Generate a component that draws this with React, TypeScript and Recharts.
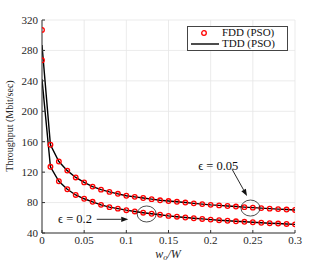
import React from "react";
import {
  ComposedChart,
  Line,
  XAxis,
  YAxis,
  CartesianGrid,
  ReferenceDot,
  ReferenceLine,
} from "recharts";

// x positions w_o/W
const ratio = [
  0, 0.01, 0.02, 0.03, 0.04, 0.05, 0.06, 0.07, 0.08, 0.09, 0.1, 0.11, 0.12, 0.13, 0.14, 0.15,
  0.16, 0.17, 0.18, 0.19, 0.2, 0.21, 0.22, 0.23, 0.24, 0.25, 0.26, 0.27, 0.28, 0.29, 0.3,
];

// epsilon = 0.05 (upper pair)
const fddHigh = [
  307, 156, 134, 122, 113, 106.5, 101, 97, 94, 91.5, 89, 87.5, 86, 84.5, 83, 82, 81, 80, 79,
  78, 77, 76.3, 75.5, 74.8, 74, 73.3, 72.7, 72, 71.4, 70.8, 70.3,
];
const tddHigh = [
  287, 156, 134, 122, 113, 106.5, 101, 97, 94, 91.5, 89, 87.5, 86, 84.5, 83, 82, 81, 80, 79,
  78, 77, 76.3, 75.5, 74.8, 74, 73.3, 72.7, 72, 71.4, 70.8, 70.3,
];

// epsilon = 0.2 (lower pair)
const fddLow = [
  267, 127, 108, 97.5, 90, 85, 81, 77, 74, 72, 70, 68.3, 66.7, 65.3, 64, 62.5, 61.4, 60.4,
  59.4, 58.5, 57.6, 56.8, 56.1, 55.4, 54.7, 54.1, 53.5, 52.9, 52.4, 51.9, 51.4,
];
const tddLow = [
  242, 127, 108, 97.5, 90, 85, 81, 77, 74, 72, 70, 68.3, 66.7, 65.3, 64, 62.5, 61.4, 60.4,
  59.4, 58.5, 57.6, 56.8, 56.1, 55.4, 54.7, 54.1, 53.5, 52.9, 52.4, 51.9, 51.4,
];

const xTicks = [0, 0.05, 0.1, 0.15, 0.2, 0.25, 0.3];
const yTicks = [40, 80, 120, 160, 200, 240, 280, 320];

const data = ratio.map((r, i) => ({
  r,
  fddHigh: fddHigh[i],
  tddHigh: tddHigh[i],
  fddLow: fddLow[i],
  tddLow: tddLow[i],
}));

const FONT = "'Liberation Serif', 'DejaVu Serif', serif";
const AXIS = "#333";
const tickStyle = { fill: "#262626", fontSize: 11, fontFamily: FONT };

const Ellipse = (props: any) => (
  <ellipse cx={props.cx} cy={props.cy} rx={9.5} ry={8} fill="none" stroke="#222" strokeWidth={0.8} />
);

const Arrow = (props: any) => {
  const { x1, y1, x2, y2 } = props;
  const ang = Math.atan2(y2 - y1, x2 - x1);
  const len = 7;
  const w = 2.6;
  const bx = x2 - len * Math.cos(ang);
  const by = y2 - len * Math.sin(ang);
  const px = -Math.sin(ang) * w;
  const py = Math.cos(ang) * w;
  return (
    <g>
      <line x1={x1} y1={y1} x2={bx} y2={by} stroke="#111" strokeWidth={0.9} />
      <polygon points={`${x2},${y2} ${bx + px},${by + py} ${bx - px},${by - py}`} fill="#111" />
    </g>
  );
};

const Label = (text: string) => (props: any) => (
  <text
    x={props.cx}
    y={props.cy}
    textAnchor="middle"
    dominantBaseline="central"
    fontFamily={FONT}
    fontSize={12.5}
    fill="#111"
  >
    {text}
  </text>
);

export default function App() {
  return (
    <div style={{ position: "absolute", left: 0, top: 0, width: 327, height: 262, background: "#fff" }}>
      <ComposedChart
        width={327}
        height={262}
        data={data}
        margin={{ top: 20, right: 32, left: 0, bottom: 0 }}
      >
        <CartesianGrid stroke="#e6e6e6" strokeWidth={0.8} />
        <XAxis
          dataKey="r"
          type="number"
          domain={[0, 0.3]}
          ticks={xTicks}
          tickFormatter={(v: number) => (v === 0 ? "0" : String(v))}
          height={29}
          tick={tickStyle}
          tickSize={-3}
          tickMargin={6}
          axisLine={{ stroke: AXIS }}
          tickLine={{ stroke: AXIS }}
          allowDataOverflow
        />
        <XAxis
          xAxisId="top"
          orientation="top"
          type="number"
          domain={[0, 0.3]}
          ticks={xTicks}
          height={0}
          tick={false}
          tickSize={-3}
          axisLine={{ stroke: AXIS }}
          tickLine={{ stroke: AXIS }}
        />
        <YAxis
          type="number"
          domain={[40, 320]}
          ticks={yTicks}
          width={42}
          tick={tickStyle}
          tickSize={-3}
          tickMargin={7}
          axisLine={{ stroke: AXIS }}
          tickLine={{ stroke: AXIS }}
          allowDataOverflow
        />
        <YAxis
          yAxisId="right"
          orientation="right"
          type="number"
          domain={[40, 320]}
          ticks={yTicks}
          width={0}
          tick={false}
          tickSize={-3}
          axisLine={{ stroke: AXIS }}
          tickLine={{ stroke: AXIS }}
        />
        <Line
          dataKey="fddHigh"
          stroke="none"
          dot={{ r: 2.3, stroke: "#ff0000", strokeWidth: 1.3, fill: "none" }}
          isAnimationActive={false}
        />
        <Line
          dataKey="fddLow"
          stroke="none"
          dot={{ r: 2.3, stroke: "#ff0000", strokeWidth: 1.3, fill: "none" }}
          isAnimationActive={false}
        />
        <Line dataKey="tddHigh" stroke="#000" strokeWidth={1.4} dot={false} isAnimationActive={false} />
        <Line dataKey="tddLow" stroke="#000" strokeWidth={1.4} dot={false} isAnimationActive={false} />

        <ReferenceDot x={0.2472} y={72.8} r={0} shape={Ellipse} />
        <ReferenceDot x={0.1241} y={65} r={0} shape={Ellipse} />
        <ReferenceLine
          segment={[
            { x: 0.2253, y: 124 },
            { x: 0.2431, y: 88.6 },
          ]}
          shape={Arrow}
        />
        <ReferenceLine
          segment={[
            { x: 0.0649, y: 58 },
            { x: 0.1023, y: 58 },
          ]}
          shape={Arrow}
        />
        <ReferenceDot x={0.209} y={128} r={0} shape={Label("ϵ = 0.05")} />
        <ReferenceDot x={0.0391} y={58} r={0} shape={Label("ϵ = 0.2")} />
      </ComposedChart>

      <svg
        width={327}
        height={262}
        style={{ position: "absolute", left: 0, top: 0, pointerEvents: "none" }}
      >
        <text
          transform="translate(13, 126) rotate(-90)"
          textAnchor="middle"
          fontFamily={FONT}
          fontSize={10}
          fill="#262626"
        >
          Throughput (Mbit/sec)
        </text>
        <text
          x={168}
          y={257.5}
          textAnchor="middle"
          fontFamily={FONT}
          fontSize={12}
          fontStyle="italic"
          fill="#262626"
        >
          w
          <tspan fontSize={8.5} dy={2}>o</tspan>
          <tspan dy={-2}>/W</tspan>
        </text>
      </svg>

      <div
        style={{
          position: "absolute",
          left: 187,
          top: 26,
          width: 101,
          height: 25,
          boxSizing: "border-box",
          border: "1px solid #444",
          background: "#fff",
          fontFamily: FONT,
          fontSize: 11,
          color: "#111",
        }}
      >
        <svg width={30} height={23} style={{ position: "absolute", left: 2, top: 0 }}>
          <circle cx={14} cy={6} r={2.3} fill="none" stroke="#ff0000" strokeWidth={1.3} />
          <line x1={1} y1={17} x2={29} y2={17} stroke="#000" strokeWidth={1.4} />
        </svg>
        <div style={{ position: "absolute", left: 34, top: -1, lineHeight: "12px" }}>FDD (PSO)</div>
        <div style={{ position: "absolute", left: 34, top: 10, lineHeight: "12px" }}>TDD (PSO)</div>
      </div>
    </div>
  );
}
